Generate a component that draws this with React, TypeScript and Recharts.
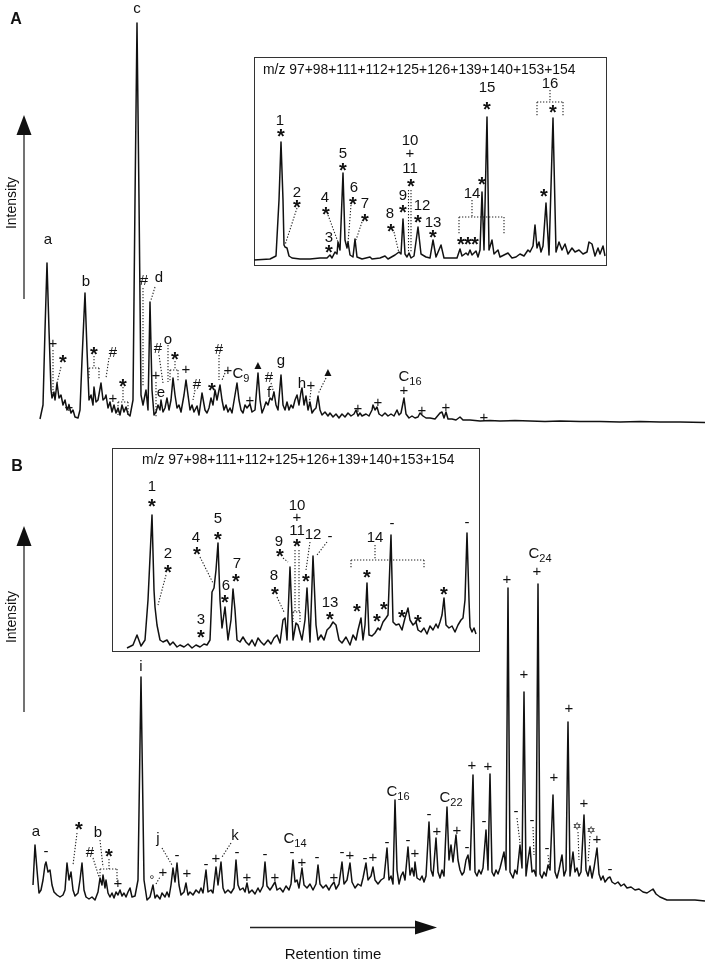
import React from 'react';
import { ComposedChart, Line, Scatter, XAxis, YAxis, ReferenceLine } from 'recharts';

// ---------- data: [retention time index, intensity] ----------
const traceAMain: [number, number][] = [
  [40, 3], [43, 17], [45, 92], [47, 159], [49, 92], [51, 32], [52, 24], [54, 30], [55, 22], [57, 39], [59, 24], [61, 27], [63, 17], [65, 22], [67, 12], [69, 17], [71, 9], [73, 12], [75, 5], [78, 4], [80, 12], [82, 62], [85, 129], [87, 72], [89, 22], [91, 27], [93, 17], [94, 35], [96, 20], [98, 22], [101, 39], [103, 22], [105, 24], [106, 27], [108, 14], [110, 20], [112, 10], [114, 17], [116, 9], [118, 14], [120, 7], [122, 17], [124, 10], [126, 15], [128, 8], [130, 6], [133, 22], [135, 222], [137, 399], [139, 222], [141, 27], [143, 17], [145, 27], [146, 32], [148, 12], [150, 120], [152, 32], [154, 7], [156, 10], [158, 17], [160, 12], [161, 22], [163, 10], [165, 14], [167, 24], [169, 12], [171, 22], [173, 44], [175, 27], [177, 14], [179, 17], [181, 10], [184, 27], [186, 42], [188, 27], [190, 12], [192, 17], [194, 10], [197, 16], [199, 7], [202, 29], [205, 12], [207, 9], [209, 14], [211, 24], [213, 17], [215, 32], [217, 22], [220, 37], [222, 22], [224, 12], [226, 17], [228, 10], [230, 14], [232, 9], [235, 27], [237, 39], [239, 22], [241, 12], [243, 9], [245, 17], [247, 14], [250, 18], [252, 10], [255, 12], [258, 49], [260, 22], [262, 9], [264, 14], [266, 20], [268, 17], [270, 24], [272, 22], [274, 30], [276, 17], [278, 12], [281, 47], [283, 17], [285, 12], [287, 20], [289, 12], [291, 17], [293, 14], [295, 22], [297, 27], [299, 17], [301, 30], [302, 34], [304, 17], [306, 26], [308, 12], [310, 20], [312, 9], [314, 12], [316, 14], [318, 26], [320, 12], [322, 7], [325, 10], [328, 6], [330, 9], [333, 5], [336, 8], [339, 4], [342, 8], [345, 5], [348, 9], [351, 6], [354, 8], [356, 12], [358, 6], [360, 9], [362, 6], [366, 8], [369, 6], [372, 12], [373, 17], [375, 12], [377, 15], [379, 8], [382, 6], [385, 9], [388, 6], [391, 8], [394, 6], [397, 12], [399, 7], [401, 9], [404, 24], [406, 8], [409, 4], [412, 6], [415, 4], [418, 5], [420, 9], [423, 6], [426, 4], [430, 4], [435, 3], [440, 9], [442, 10], [444, 4], [446, 10], [448, 3], [452, 3], [456, 2], [460, 5], [463, 2], [470, 2], [480, 1], [490, 1.5], [500, 1], [515, 1.5], [530, 1], [545, 0.5], [560, 1], [580, 0.5], [600, 0.5], [620, 0], [640, 0.5], [660, 0], [680, 0], [705, -0.5],
];

const traceAInset: [number, number][] = [
  [254, 0], [270, 1], [276, 4], [279, 60], [281, 118], [283, 60], [284, 15], [285, 13], [287, 12], [289, 4], [292, 2], [300, 1], [310, 1], [320, 2], [327, 2], [330, 5], [332, 2], [335, 8], [337, 6], [338, 18], [340, 10], [343, 87], [345, 20], [347, 12], [348, 18], [350, 5], [353, 3], [355, 21], [357, 3], [362, 1], [370, 3], [372, 1], [380, 2], [385, 4], [388, 1], [395, 5], [399, 8], [401, 6], [403, 41], [405, 6], [407, 3], [409, 7], [411, 2], [414, 4], [418, 33], [421, 6], [426, 3], [430, 2], [433, 20], [436, 3], [441, 15], [444, 2], [452, 2], [457, 2], [460, 11], [462, 4], [466, 7], [468, 5], [470, 10], [472, 5], [476, 9], [478, 3], [480, 10], [482, 68], [484, 10], [487, 143], [489, 10], [492, 20], [494, 6], [498, 10], [500, 3], [504, 5], [508, 7], [512, 2], [516, 3], [520, 6], [524, 4], [528, 10], [530, 8], [533, 14], [535, 35], [537, 12], [539, 18], [541, 8], [543, 14], [546, 57], [549, 5], [553, 142], [556, 8], [559, 18], [562, 10], [565, 16], [568, 6], [572, 12], [575, 8], [579, 10], [583, 6], [587, 8], [589, 18], [592, 16], [595, 4], [598, 12], [600, 6], [603, 14], [605, 4],
];

const traceBMain: [number, number][] = [
  [33, 20], [35, 60], [37, 35], [39, 12], [41, 15], [43, 25], [45, 40], [46, 43], [48, 33], [50, 35], [52, 20], [54, 13], [57, 10], [60, 8], [63, 10], [65, 15], [67, 42], [69, 25], [71, 33], [73, 15], [75, 9], [78, 12], [80, 25], [82, 42], [84, 15], [86, 8], [89, 6], [92, 8], [95, 5], [98, 13], [100, 27], [102, 20], [103, 30], [105, 17], [106, 25], [108, 12], [110, 8], [112, 12], [114, 7], [116, 13], [118, 10], [120, 15], [122, 9], [124, 12], [126, 8], [128, 13], [130, 17], [132, 8], [135, 9], [138, 25], [141, 228], [144, 25], [147, 5], [150, 8], [153, 20], [155, 7], [157, 10], [160, 6], [162, 12], [165, 8], [167, 13], [169, 8], [171, 20], [173, 37], [175, 23], [177, 42], [179, 20], [181, 10], [184, 13], [186, 22], [188, 10], [190, 13], [193, 10], [196, 15], [199, 12], [201, 17], [203, 12], [206, 35], [208, 13], [211, 15], [213, 12], [216, 38], [218, 20], [221, 43], [223, 17], [225, 12], [228, 15], [231, 12], [234, 17], [236, 45], [238, 20], [240, 15], [243, 17], [245, 13], [247, 22], [249, 12], [252, 15], [255, 11], [258, 17], [260, 13], [263, 19], [265, 43], [267, 19], [270, 15], [272, 18], [275, 23], [277, 15], [280, 17], [283, 13], [286, 19], [289, 15], [291, 21], [293, 45], [295, 23], [297, 25], [299, 17], [302, 37], [304, 20], [307, 17], [310, 21], [313, 15], [316, 21], [318, 40], [320, 21], [323, 17], [326, 20], [329, 15], [331, 19], [334, 23], [336, 16], [339, 21], [342, 43], [344, 21], [347, 25], [350, 42], [352, 23], [355, 17], [358, 21], [361, 19], [363, 27], [366, 42], [368, 25], [371, 29], [373, 38], [375, 25], [378, 21], [381, 25], [384, 27], [387, 57], [389, 25], [391, 29], [393, 21], [395, 105], [397, 35], [399, 21], [401, 29], [403, 33], [405, 25], [408, 58], [410, 30], [412, 37], [414, 29], [415, 43], [417, 27], [420, 25], [422, 29], [424, 23], [426, 29], [429, 83], [431, 35], [433, 29], [436, 67], [438, 33], [440, 27], [442, 35], [444, 29], [447, 98], [449, 45], [451, 60], [453, 43], [456, 70], [458, 45], [460, 35], [462, 30], [464, 33], [466, 45], [468, 50], [470, 35], [473, 130], [475, 33], [477, 29], [479, 35], [481, 31], [483, 37], [486, 75], [488, 35], [490, 131], [492, 33], [494, 29], [496, 35], [498, 31], [500, 37], [502, 45], [504, 53], [506, 35], [508, 317], [510, 33], [513, 27], [515, 35], [517, 31], [520, 60], [522, 37], [524, 213], [526, 29], [528, 45], [530, 58], [532, 33], [534, 35], [536, 29], [538, 321], [540, 31], [542, 27], [544, 33], [546, 29], [548, 40], [550, 35], [553, 110], [555, 33], [557, 27], [559, 35], [562, 50], [564, 29], [566, 35], [568, 183], [570, 29], [573, 53], [575, 33], [577, 37], [579, 29], [581, 33], [584, 90], [586, 35], [588, 29], [590, 39], [592, 27], [594, 37], [597, 57], [599, 31], [601, 25], [603, 29], [605, 23], [608, 27], [610, 28], [612, 23], [615, 21], [618, 23], [621, 19], [624, 21], [627, 17], [631, 18], [635, 15], [639, 16], [643, 13], [647, 12], [650, 14], [653, 16], [656, 11], [660, 8], [667, 5], [680, 5], [695, 5], [705, 4],
];

const traceBInset: [number, number][] = [
  [127, 2], [133, 5], [137, 15], [141, 4], [145, 10], [148, 50], [152, 135], [154, 60], [155, 43], [157, 25], [160, 10], [163, 8], [167, 10], [170, 5], [173, 8], [177, 3], [180, 5], [184, 3], [188, 6], [192, 2], [196, 5], [200, 3], [204, 6], [207, 5], [210, 10], [212, 58], [214, 62], [216, 80], [218, 107], [220, 50], [222, 22], [225, 43], [228, 10], [231, 30], [233, 61], [235, 40], [237, 10], [240, 8], [243, 13], [246, 8], [249, 5], [252, 10], [255, 4], [258, 12], [261, 8], [264, 5], [268, 10], [271, 6], [274, 12], [277, 15], [280, 7], [283, 30], [285, 32], [287, 10], [290, 83], [293, 10], [296, 27], [298, 25], [302, 10], [305, 30], [307, 62], [310, 8], [313, 94], [316, 25], [318, 10], [321, 15], [324, 10], [327, 20], [330, 23], [333, 28], [336, 25], [339, 10], [342, 7], [346, 13], [350, 5], [353, 15], [356, 10], [358, 20], [361, 32], [363, 10], [365, 25], [367, 67], [369, 15], [372, 14], [375, 17], [378, 22], [380, 20], [383, 28], [386, 32], [388, 35], [391, 115], [393, 28], [396, 25], [399, 26], [402, 20], [405, 32], [408, 42], [410, 30], [413, 25], [416, 28], [418, 20], [421, 18], [424, 22], [427, 16], [430, 24], [433, 20], [436, 26], [438, 22], [440, 28], [442, 35], [444, 52], [446, 25], [449, 22], [452, 24], [455, 18], [458, 25], [461, 30], [463, 32], [465, 50], [467, 117], [469, 50], [470, 23], [472, 18], [474, 22], [476, 16],
];

// ---------- annotation labels: [retention time index, intensity, text, subscript] ----------
type Lab = [number, number, string, string?];

const labelsAMain: Lab[] = [
  [48, 182, 'a'], [86, 141, 'b'], [137, 413, 'c'], [144, 142, '#'], [159, 145, 'd'],
  [53, 79, '+'], [63, 64, '*'], [69, 15, '+'], [94, 72, '*'], [113, 70, '#'], [113, 24, '+'], [123, 40, '*'],
  [156, 47, '+'], [161, 29, 'e'], [158, 74, '#'], [168, 82, 'o'], [175, 67, '*'], [186, 53, '+'],
  [197, 38, '#'], [212, 36, '*'], [219, 73, '#'], [228, 52, '+'], [241, 49, 'C', '9'], [250, 22, '+'],
  [258, 57, '▲'], [269, 45, '#'], [269, 30, 'f'], [281, 60, 'g'], [302, 39, 'h'], [311, 37, '+'], [328, 50, '▲'],
  [358, 14, '+'], [378, 20, '+'], [410, 46, 'C', '16'], [404, 32, '+'], [422, 12, '+'], [446, 15, '+'], [484, 5, '+'],
];

const leadersAMain: [number, number, number, number][] = [
  [143, 134, 143, 35], [155, 135, 151, 122], [53, 72, 53, 24], [61, 55, 57, 39],
  [94, 66, 94, 54], [89, 54, 99, 54], [89, 54, 89, 42], [99, 54, 99, 42],
  [109, 64, 106, 44], [123, 35, 123, 20], [118, 20, 128, 20], [118, 20, 118, 7], [128, 20, 128, 7],
  [156, 40, 156, 5], [159, 67, 163, 39], [168, 77, 168, 40],
  [175, 61, 175, 52], [170, 52, 178, 52], [170, 52, 170, 40], [178, 52, 178, 40],
  [195, 32, 193, 22], [219, 67, 219, 42], [225, 49, 222, 42], [271, 39, 275, 25], [311, 32, 309, 17], [326, 44, 318, 28],
];

const labelsAInset: Lab[] = [
  [280, 140, '1'], [281, 128, '*'], [297, 68, '2'], [297, 57, '*'], [329, 23, '3'], [329, 12, '*'],
  [325, 63, '4'], [326, 50, '*'], [343, 107, '5'], [343, 94, '*'], [354, 73, '6'], [353, 60, '*'],
  [365, 57, '7'], [365, 43, '*'], [390, 47, '8'], [391, 33, '*'], [403, 65, '9'], [403, 52, '*'],
  [410, 120, '10'], [410, 107, '+'], [410, 92, '11'], [411, 78, '*'], [422, 55, '12'], [418, 42, '*'],
  [433, 38, '13'], [433, 27, '*'], [461, 20, '*'], [468, 20, '*'], [475, 20, '*'], [472, 67, '14'],
  [482, 80, '*'], [487, 173, '15'], [487, 155, '*'], [544, 68, '*'], [550, 177, '16'], [553, 152, '*'],
];

const leadersAInset: [number, number, number, number][] = [
  [297, 52, 285, 15], [328, 45, 338, 18], [351, 55, 348, 17], [362, 38, 356, 20], [394, 28, 399, 7],
  [408.5, 70, 408.5, 8], [411, 70, 411, 8],
  [472, 60, 472, 43], [459, 43, 504, 43], [459, 43, 459, 25], [504, 43, 504, 25],
  [550, 170, 550, 158], [537, 158, 563, 158], [537, 158, 537, 143], [563, 158, 563, 143],
];

const labelsBMain: Lab[] = [
  [36, 73, 'a'], [46, 53, '-'], [79, 80, '*'], [90, 53, '#'], [98, 73, 'b'], [109, 53, '*'], [118, 22, '+'],
  [141, 239, 'i'], [152, 28, '°'], [163, 33, '+'], [158, 66, 'j'], [177, 49, '-'], [187, 32, '+'],
  [206, 40, '-'], [216, 47, '+'], [235, 70, 'k'], [237, 52, '-'], [247, 28, '+'], [265, 50, '-'], [275, 28, '+'],
  [295, 67, 'C', '14'], [292, 52, '-'], [302, 43, '+'], [317, 47, '-'], [334, 28, '+'], [342, 52, '-'], [350, 50, '+'],
  [365, 46, '-'], [373, 48, '+'], [387, 62, '-'], [398, 114, 'C', '16'], [408, 64, '-'], [415, 52, '+'],
  [429, 90, '-'], [437, 74, '+'], [451, 108, 'C', '22'], [457, 75, '+'], [467, 57, '-'], [472, 140, '+'],
  [484, 83, '-'], [488, 139, '+'], [507, 326, '+'], [516, 93, '-'], [524, 231, '+'], [532, 84, '-'],
  [540, 352, 'C', '24'], [537, 334, '+'], [547, 56, '-'], [554, 128, '+'], [569, 197, '+'], [577, 79, '✡'],
  [584, 102, '+'], [591, 75, '✡'], [597, 66, '+'], [610, 35, '-'],
];

const leadersBMain: [number, number, number, number][] = [
  [77, 72, 73, 40], [93, 47, 99, 28], [100, 65, 103, 38], [109, 46, 109, 36], [100, 36, 117, 36], [100, 36, 100, 27], [117, 36, 117, 23],
  [156, 21, 160, 28], [162, 57, 172, 40], [231, 62, 222, 48],
  [517, 87, 520, 62], [533, 78, 534, 50], [548, 50, 550, 35], [578, 73, 579, 45], [590, 69, 588, 42],
];

const labelsBInset: Lab[] = [
  [152, 164, '1'], [152, 148, '*'], [168, 97, '2'], [168, 82, '*'], [201, 31, '3'], [201, 17, '*'],
  [196, 113, '4'], [197, 100, '*'], [218, 132, '5'], [218, 115, '*'], [226, 65, '6'], [225, 52, '*'],
  [237, 87, '7'], [236, 73, '*'], [274, 75, '8'], [275, 60, '*'], [279, 109, '9'], [280, 98, '*'],
  [297, 145, '10'], [297, 133, '+'], [297, 120, '11'], [297, 108, '*'], [313, 116, '12'], [306, 73, '*'],
  [330, 113, '-'], [330, 48, '13'], [330, 35, '*'], [375, 113, '14'], [367, 77, '*'], [392, 126, '-'],
  [357, 43, '*'], [377, 33, '*'], [384, 45, '*'], [402, 37, '*'], [418, 32, '*'], [444, 60, '*'], [467, 127, '-'],
];

const leadersBInset: [number, number, number, number][] = [
  [166, 75, 158, 45], [200, 93, 213, 67], [277, 53, 284, 38], [283, 92, 288, 88],
  [295, 100, 295, 38], [299, 100, 299, 38], [293, 38, 300, 38], [293, 38, 293, 28], [300, 38, 300, 28],
  [310, 108, 306, 80], [327, 108, 317, 95],
  [375, 105, 375, 90], [351, 90, 424, 90], [351, 90, 351, 82], [424, 90, 424, 82],
];

const insetTitle = 'm/z 97+98+111+112+125+126+139+140+153+154';

// ---------- rendering ----------
const FONT = '"Liberation Sans", Arial, Helvetica, sans-serif';
const INK = '#111';

function styleFor(text: string) {
  if (text === '*') return { size: 20, weight: 700, dy: '0.56em', family: FONT };
  if (text === '°') return { size: 12, weight: 400, dy: '0.6em', family: FONT };
  if (text === '-') return { size: 15, weight: 400, dy: '0.28em', family: FONT };
  if (text === '▲') return { size: 12, weight: 400, dy: '0.34em', family: FONT };
  if (text === '✡') return { size: 11, weight: 400, dy: '0.36em', family: '"DejaVu Sans", sans-serif' };
  if (text === '+' || text === '#') return { size: 15, weight: 400, dy: '0.35em', family: FONT };
  if ('aceo'.includes(text)) return { size: 15, weight: 400, dy: '0.26em', family: FONT };
  if (text === 'g') return { size: 15, weight: 400, dy: '0.17em', family: FONT };
  if (text === 'j') return { size: 15, weight: 400, dy: '0.25em', family: FONT };
  return { size: 15, weight: 400, dy: '0.36em', family: FONT };
}

function LabelShape(props: any) {
  const { cx, cy, payload } = props;
  if (cx == null || cy == null || !payload) return <g />;
  const st = styleFor(payload.text);
  return (
    <text x={cx} y={cy} dy={st.dy} textAnchor="middle" fontFamily={st.family} fontSize={st.size} fontWeight={st.weight} fill={INK}>
      {payload.text}
      {payload.sub ? <tspan fontSize={11} dy={4}>{payload.sub}</tspan> : null}
    </text>
  );
}

type TraceProps = {
  left: number; top: number; width: number; height: number;
  xDomain: [number, number]; yDomain: [number, number];
  trace: [number, number][]; labels: Lab[]; leaders: [number, number, number, number][];
};

function Trace({ left, top, width, height, xDomain, yDomain, trace, labels, leaders }: TraceProps) {
  const lineData = trace.map(([t, v]) => ({ t, v }));
  const labData = labels.map(([t, v, text, sub]) => ({ t, v, text, sub }));
  return (
    <div style={{ position: 'absolute', left, top, width, height }}>
      <ComposedChart width={width} height={height} data={lineData} margin={{ top: 0, right: 0, bottom: 0, left: 0 }} style={{ overflow: 'visible' }}>
        <XAxis type="number" dataKey="t" domain={xDomain} hide allowDataOverflow />
        <YAxis type="number" domain={yDomain} hide allowDataOverflow />
        {leaders.map(([xa, ya, xb, yb], i) => (
          <ReferenceLine key={i} segment={[{ x: xa, y: ya }, { x: xb, y: yb }]} stroke="#222" strokeWidth={1.1} strokeDasharray="1.3 1.7" ifOverflow="visible" />
        ))}
        <Line type="linear" dataKey="v" stroke={INK} strokeWidth={1.5} strokeLinejoin="round" dot={false} activeDot={false} isAnimationActive={false} />
        <Scatter data={labData} dataKey="v" shape={LabelShape} isAnimationActive={false} />
      </ComposedChart>
    </div>
  );
}

function InsetBox({ left, top, width, height }: { left: number; top: number; width: number; height: number }) {
  return <div style={{ position: 'absolute', left, top, width, height, border: '1.5px solid #333', boxSizing: 'border-box', background: '#fff' }} />;
}

export default function App() {
  return (
    <div style={{ position: 'absolute', left: 0, top: 0, width: 709, height: 962, background: '#fff', overflow: 'hidden', filter: 'grayscale(1)' }}>
      <Trace left={0} top={0} width={709} height={430} xDomain={[0, 709]} yDomain={[-8, 422]} trace={traceAMain} labels={labelsAMain} leaders={leadersAMain} />
      <InsetBox left={253.5} top={56.5} width={353} height={209} />
      <Trace left={254} top={57} width={352} height={208} xDomain={[254, 606]} yDomain={[-5, 203]} trace={traceAInset} labels={labelsAInset} leaders={leadersAInset} />
      <Trace left={0} top={540} width={709} height={380} xDomain={[0, 709]} yDomain={[-15, 365]} trace={traceBMain} labels={labelsBMain} leaders={leadersBMain} />
      <InsetBox left={111.5} top={447.5} width={368.5} height={204} />
      <Trace left={112} top={448} width={368} height={203} xDomain={[112, 480]} yDomain={[-1, 202]} trace={traceBInset} labels={labelsBInset} leaders={leadersBInset} />
      <svg width={709} height={962} style={{ position: 'absolute', left: 0, top: 0, pointerEvents: 'none' }}>
        <g fontFamily={FONT} fill={INK}>
          <text x={16} y={18.5} dy="0.36em" textAnchor="middle" fontSize={16} fontWeight={700}>A</text>
          <text x={17} y={465.5} dy="0.36em" textAnchor="middle" fontSize={16} fontWeight={700}>B</text>
          <text x={263} y={69} dy="0.35em" fontSize={13.9}>{insetTitle}</text>
          <text x={142} y={459} dy="0.35em" fontSize={13.9}>{insetTitle}</text>
          <text transform="translate(11,203) rotate(-90)" dy="0.35em" textAnchor="middle" fontSize={14}>Intensity</text>
          <text transform="translate(11,617) rotate(-90)" dy="0.35em" textAnchor="middle" fontSize={14}>Intensity</text>
          <text x={333} y={954} dy="0.35em" textAnchor="middle" fontSize={15}>Retention time</text>
        </g>
        <g stroke="#444" strokeWidth={1.5} fill="#111">
          <line x1={24} y1={133} x2={24} y2={299} />
          <polygon points="24,115 16.5,135 31.5,135" stroke="none" />
          <line x1={24} y1={544} x2={24} y2={712} />
          <polygon points="24,526 16.5,546 31.5,546" stroke="none" />
          <line x1={250} y1={927.5} x2={418} y2={927.5} stroke="#222" />
          <polygon points="437,927.5 415,920.5 415,934.5" stroke="none" />
        </g>
      </svg>
    </div>
  );
}
